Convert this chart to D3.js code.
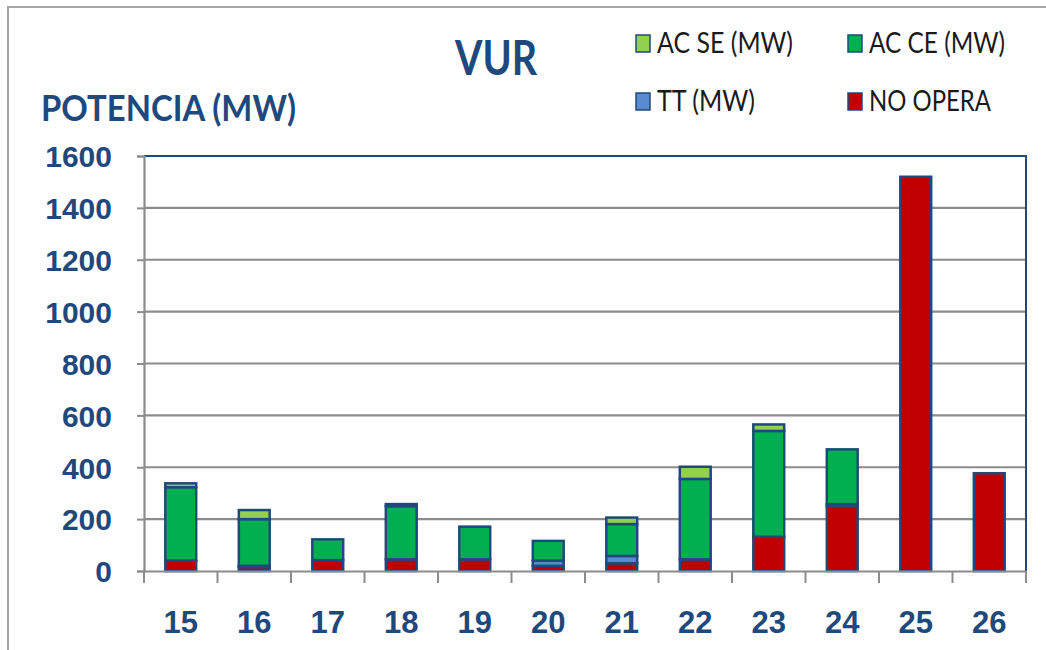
<!DOCTYPE html>
<html>
<head>
<meta charset="utf-8">
<script src="https://cdn.jsdelivr.net/npm/d3@7"></script>
<style>
  body { margin: 0; background: #fff; }
  svg { font-family: Lato, 'Open Sans', 'Liberation Sans', sans-serif; }
</style>
</head>
<body>
<svg></svg>
<script>
let svgWidth = 1046
let svgHeight = 650

let categories = ['15', '16', '17', '18', '19', '20', '21', '22', '23', '24', '25', '26']
let noOpera = [40, 15, 42, 45, 45, 20, 30, 45, 132, 248, 1520, 377]
let tt =      [0, 5, 0, 0, 0, 20, 28, 0, 0, 10, 0, 0]
let acCe =    [283, 180, 80, 205, 126, 76, 123, 310, 408, 211, 0, 0]
let acSe =    [15, 35, 0, 8, 0, 0, 25, 47, 25, 0, 0, 0]
let yTicks = [0, 200, 400, 600, 800, 1000, 1200, 1400, 1600]

let seriesKeys = ['noOpera', 'tt', 'acCe', 'acSe']
let seriesColors = { noOpera: '#c00000', tt: '#5a8bd0', acCe: '#00b050', acSe: '#92d050' }

let rows = categories.map((c, i) => ({
  cat: c, noOpera: noOpera[i], tt: tt[i], acCe: acCe[i], acSe: acSe[i]
}))

let plotLeft = 144, plotRight = 1026, plotTop = 156, plotBottom = 571
let navy = '#1f497d'
let grid = '#8c8c8c'

let svg = d3.select('svg')
    .attr('width', svgWidth)
    .attr('height', svgHeight)

/* outer frame */
svg.append('path')
    .attr('d', `M8,${svgHeight} L8,7 L${svgWidth},7`)
    .attr('fill', 'none')
    .attr('stroke', '#a6a6a6')
    .attr('stroke-width', 2)

let xScale = d3.scaleBand()
    .domain(categories)
    .range([plotLeft, plotRight])
    .paddingInner(0.58)
    .paddingOuter(0.29)

let xBand = d3.scaleBand().domain(categories).range([plotLeft, plotRight])

let yScale = d3.scaleLinear()
    .domain([0, 1600])
    .range([plotBottom, plotTop])

/* gridlines */
svg.append('g')
  .selectAll('line')
  .data(yTicks.filter(d => d > 0 && d < 1600))
  .enter()
  .append('line')
    .attr('x1', plotLeft)
    .attr('x2', plotRight)
    .attr('y1', d => yScale(d))
    .attr('y2', d => yScale(d))
    .attr('stroke', grid)
    .attr('stroke-width', 2.2)

/* plot border top + right */
svg.append('path')
    .attr('d', `M${plotLeft},${plotTop} L${plotRight},${plotTop} L${plotRight},${plotBottom}`)
    .attr('fill', 'none')
    .attr('stroke', navy)
    .attr('stroke-width', 2)

/* stacked bars */
let stacked = d3.stack().keys(seriesKeys)(rows)

svg.append('g')
  .selectAll('g')
  .data(stacked)
  .enter()
  .append('g')
    .attr('fill', d => seriesColors[d.key])
  .selectAll('rect')
  .data(d => d.filter(s => s[1] > s[0]))
  .enter()
  .append('rect')
    .attr('x', d => xScale(d.data.cat))
    .attr('y', d => yScale(d[1]))
    .attr('width', xScale.bandwidth())
    .attr('height', d => yScale(d[0]) - yScale(d[1]))
    .attr('stroke', navy)
    .attr('stroke-width', 2.5)

/* y axis */
let yAxis = d3.axisLeft(yScale)
    .tickValues(yTicks)
    .tickFormat(d3.format('d'))
    .tickSize(7)
    .tickPadding(25)

let yG = svg.append('g')
    .attr('transform', `translate(${plotLeft}, 0)`)
    .call(yAxis)
yG.select('.domain').attr('stroke', grid).attr('stroke-width', 2.2)
yG.selectAll('.tick line').attr('stroke', grid).attr('stroke-width', 2)
yG.selectAll('text')
    .attr('fill', navy)
    .attr('font-size', 30)
    .attr('font-weight', 'bold')
    .attr('dy', '0.36em')

/* x axis */
let xAxis = d3.axisBottom(xBand)
    .tickSize(0)
    .tickPadding(40)

let xG = svg.append('g')
    .attr('transform', `translate(0, ${plotBottom})`)
    .call(xAxis)
xG.select('.domain').attr('stroke', grid).attr('stroke-width', 2.2)
xG.selectAll('text')
    .attr('fill', navy)
    .attr('font-size', 31)
    .attr('font-weight', 'bold')

/* category separator ticks */
xG.selectAll('.sep')
  .data(categories.concat(['end']))
  .enter()
  .append('line')
    .attr('x1', (d, i) => plotLeft + i * xBand.step())
    .attr('x2', (d, i) => plotLeft + i * xBand.step())
    .attr('y1', 0)
    .attr('y2', 12)
    .attr('stroke', grid)
    .attr('stroke-width', 2)

/* title */
svg.append('text')
    .attr('x', 455)
    .attr('y', 75)
    .attr('fill', navy)
    .attr('font-size', 47)
    .attr('font-weight', 'bold')
    .attr('textLength', 82)
    .attr('lengthAdjust', 'spacingAndGlyphs')
    .text('VUR')

/* y-axis title */
svg.append('text')
    .attr('x', 41)
    .attr('y', 121)
    .attr('fill', navy)
    .attr('font-size', 36)
    .attr('font-weight', 'bold')
    .attr('textLength', 255)
    .attr('lengthAdjust', 'spacingAndGlyphs')
    .text('POTENCIA (MW)')

/* legend */
let legendItems = [
  { key: 'acSe', label: 'AC SE (MW)', x: 636, y: 43, w: 136 },
  { key: 'acCe', label: 'AC CE (MW)', x: 848, y: 43, w: 136 },
  { key: 'tt', label: 'TT (MW)', x: 636, y: 101, w: 98 },
  { key: 'noOpera', label: 'NO OPERA', x: 848, y: 101, w: 122 }
]

let legend = svg.append('g')
  .selectAll('g')
  .data(legendItems)
  .enter()
  .append('g')
    .attr('transform', d => `translate(${d.x}, ${d.y})`)

legend.append('rect')
    .attr('x', 0)
    .attr('y', -8)
    .attr('width', 14)
    .attr('height', 17)
    .attr('fill', d => seriesColors[d.key])
    .attr('stroke', navy)
    .attr('stroke-width', 1.5)

legend.append('text')
    .attr('x', 21)
    .attr('y', 0)
    .attr('dy', '0.36em')
    .attr('fill', '#1a1a1a')
    .attr('font-size', 29)
    .attr('textLength', d => d.w)
    .attr('lengthAdjust', 'spacingAndGlyphs')
    .text(d => d.label)
</script>
</body>
</html>
